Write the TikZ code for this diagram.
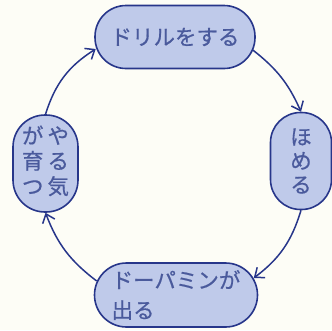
\documentclass[tikz,border=0pt]{standalone}
\usepackage{fontspec}
\newfontfamily\jp[FakeBold=0.6]{Noto Sans CJK JP}
\usetikzlibrary{arrows.meta}
\definecolor{bgc}{HTML}{FDFDF6}
\definecolor{fillc}{HTML}{BFCAEA}
\definecolor{linec}{HTML}{27368A}
\definecolor{textc}{HTML}{4A5A9C}
\begin{document}
\begin{tikzpicture}[x=1pt,y=-1pt,
  box/.style={draw=linec, line width=1.6pt, fill=fillc, text=textc, inner sep=0pt, font=\jp\fontsize{21.5}{24}\selectfont},
  conn/.style={draw=linec, line width=1.5pt, -{Straight Barb[length=8pt,width=13pt,line width=1.5pt]}}]
\fill[bgc] (0,0) rectangle (332,330);
\useasboundingbox (0,0) rectangle (332,330);
\node[box, minimum width=160pt, minimum height=63pt, rounded corners=31pt] (top) at (175,37) {ドリルをする};
\node[box, minimum width=61pt, minimum height=97pt, rounded corners=30pt, align=center] (right) at (301,161) {ほ\\め\\る};
\node[box, minimum width=65pt, minimum height=97pt, rounded corners=32pt] (left) at (45.5,163.5)
  {\begin{tabular}{@{}c@{\hspace{4pt}}c@{}}が&や\\育&る\\つ&気\end{tabular}};
\node[box, minimum width=163pt, minimum height=64pt, rounded corners=32pt, align=left, font=\jp\fontsize{21.5}{30}\selectfont] (bottom) at (176,295) {ドーパミンが\\出る};
\draw[conn] (left.north) to[bend left=20] ([xshift=1.5pt,yshift=-12pt]top.west);
\draw[conn] ([xshift=-3pt,yshift=-13pt]top.east) to[bend left=14] (right.north);
\draw[conn] (right.south) to[bend left=18] ([xshift=-4.5pt,yshift=17pt]bottom.east);
\draw[conn] ([xshift=3pt,yshift=14pt]bottom.west) to[bend left=16] (left.south);
\end{tikzpicture}
\end{document}
